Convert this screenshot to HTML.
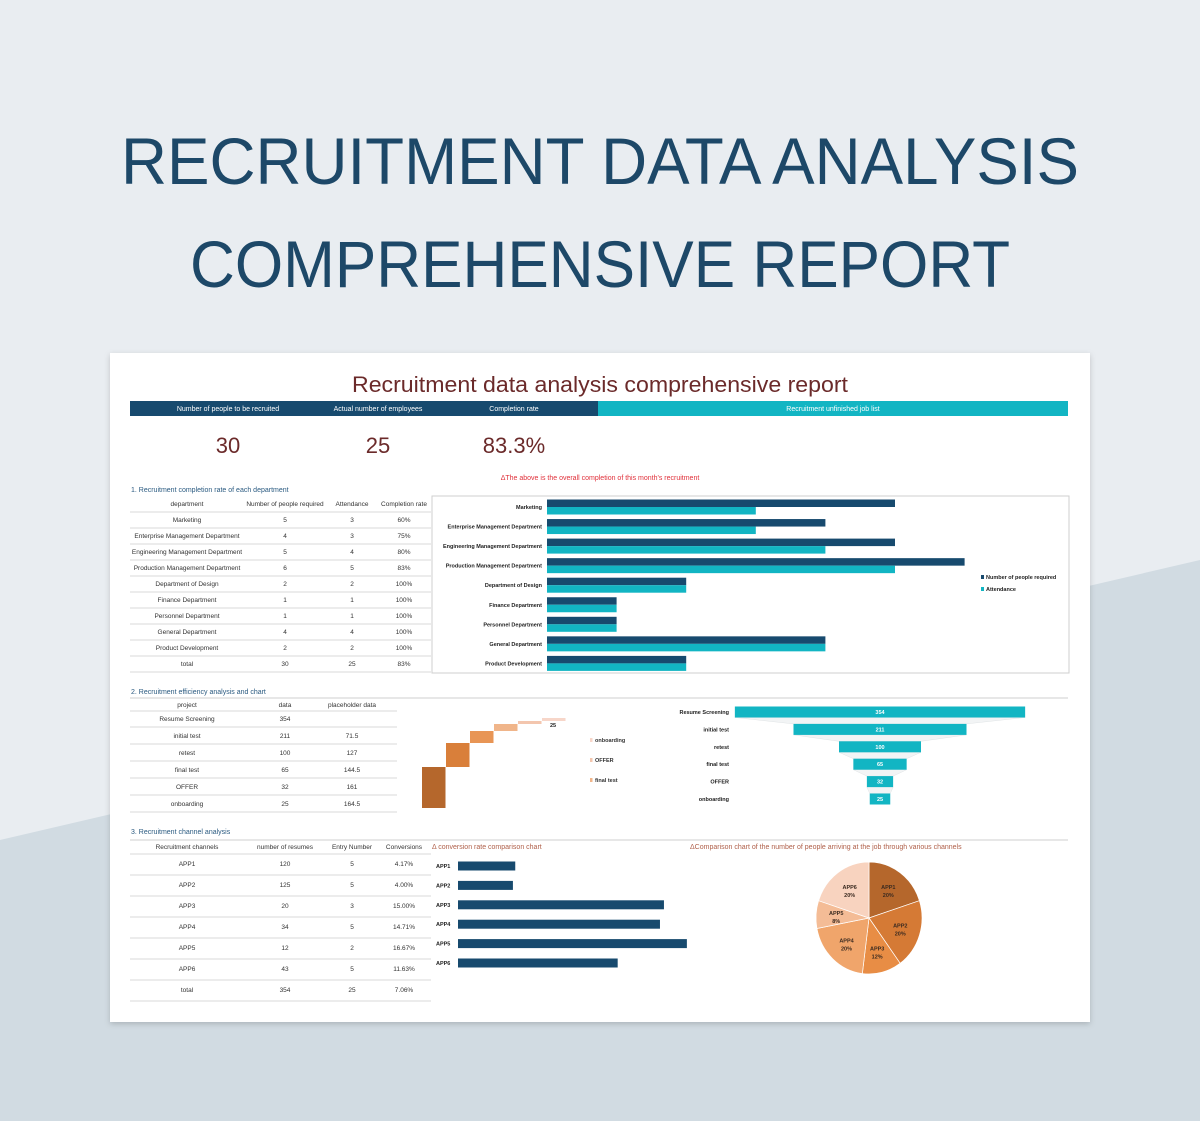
<!DOCTYPE html>
<html><head><meta charset="utf-8">
<style>
html,body{margin:0;padding:0;width:1200px;height:1121px;overflow:hidden;background:#e9edf1;}
svg{display:block;font-family:"Liberation Sans",sans-serif;}
</style></head>
<body>
<svg id="root" width="1200" height="1121" viewBox="0 0 1200 1121" xmlns="http://www.w3.org/2000/svg">
<defs><filter id="sh" x="-5%" y="-5%" width="110%" height="110%"><feDropShadow dx="0" dy="2" stdDeviation="3" flood-color="#000" flood-opacity="0.18"/></filter></defs>
<rect width="1200" height="1121" fill="#e9edf1"/>
<polygon points="0,840 1200,560 1200,1121 0,1121" fill="#d1dbe2"/>
<text x="600" y="184" text-anchor="middle" font-size="66" fill="#1d4868" textLength="958" lengthAdjust="spacingAndGlyphs">RECRUITMENT DATA ANALYSIS</text>
<text x="600" y="287" text-anchor="middle" font-size="66" fill="#1d4868" textLength="820" lengthAdjust="spacingAndGlyphs">COMPREHENSIVE REPORT</text>
<rect x="110" y="353" width="980" height="669" fill="#fff" filter="url(#sh)"/>
<text x="600" y="392" text-anchor="middle" font-size="22" fill="#6b2a2a" textLength="496" lengthAdjust="spacingAndGlyphs">Recruitment data analysis comprehensive report</text>
<rect x="130" y="401" width="468" height="15" fill="#174a6e"/>
<rect x="598" y="401" width="470" height="15" fill="#12b5c3"/>
<g font-size="7" fill="#fff" text-anchor="middle">
<text x="228" y="411">Number of people to be recruited</text>
<text x="378" y="411">Actual number of employees</text>
<text x="514" y="411">Completion rate</text>
<text x="833" y="411">Recruitment unfinished job list</text>
</g>
<g font-size="22" fill="#6b2a2a" text-anchor="middle">
<text x="228" y="453">30</text>
<text x="378" y="453">25</text>
<text x="514" y="453">83.3%</text>
</g>
<text x="600" y="480" text-anchor="middle" font-size="7" fill="#e0303a">ΔThe above is the overall completion of this month's recruitment</text>
<text x="131" y="492" font-size="7" fill="#2a5a80">1. Recruitment completion rate of each department</text>
<rect x="432" y="496" width="637" height="177" fill="none" stroke="#cfcfcf"/>
<text x="131" y="694" font-size="7" fill="#2a5a80">2. Recruitment efficiency analysis and chart</text>
<line x1="130" y1="698" x2="1068" y2="698" stroke="#cfcfcf"/>
<text x="131" y="834" font-size="7" fill="#2a5a80">3. Recruitment channel analysis</text>
<line x1="130" y1="840" x2="1068" y2="840" stroke="#cfcfcf"/>
<text x="432" y="849" font-size="7" fill="#b0604a">Δ conversion rate comparison chart</text>
<text x="690" y="849" font-size="7" fill="#b0604a">ΔComparison chart of the number of people arriving at the job through various channels</text>
<g id="dyn"></g>
</svg>
<script>
// ---- Department data ----
const deptNames = ["Marketing","Enterprise Management Department","Engineering Management Department","Production Management Department","Department of Design","Finance Department","Personnel Department","General Department","Product Development"];
const deptRequired = [5,4,5,6,2,1,1,4,2];
const deptAttendance = [3,3,4,5,2,1,1,4,2];
const deptRates = ["60%","75%","80%","83%","100%","100%","100%","100%","100%"];
// ---- Efficiency data ----
const stageNames = ["Resume Screening","initial test","retest","final test","OFFER","onboarding"];
const stageValues = [354,211,100,65,32,25];
const stagePlaceholder = ["","71.5","127","144.5","161","164.5"];
const waterfallSteps = [41,24,12,7,3,3];
// ---- Channel data ----
const channelNames = ["APP1","APP2","APP3","APP4","APP5","APP6"];
const channelResumes = [120,125,20,34,12,43];
const channelEntries = [5,5,3,5,2,5];
const channelConversion = [4.17,4.00,15.00,14.71,16.67,11.63];
const pieShares = [20,20,12,20,8,20];

const NS="http://www.w3.org/2000/svg";
const dyn=document.getElementById('dyn');
function el(tag,a){const e=document.createElementNS(NS,tag);for(const k in a)e.setAttribute(k,a[k]);dyn.appendChild(e);return e;}
function txt(x,y,s,size,fill,anchor,weight){const t=el('text',{x:x,y:y,'font-size':size,fill:fill,'text-anchor':anchor||'middle','font-weight':weight||'normal'});t.textContent=s;return t;}

// Table 1
const t1cols=[187,285,352,404];
const t1head=["department","Number of people required","Attendance","Completion rate"];
t1head.forEach((h,i)=>{const t=txt(t1cols[i],506,h,6.5,'#333');

});
function hline(x1,x2,y,name){const l=el('line',{x1:x1,x2:x2,y1:y,y2:y,stroke:'#d8d8d8'});

}
hline(130,431,512,'dept-table-rule');
const t1rows=deptNames.map((n,i)=>[n,deptRequired[i],deptAttendance[i],deptRates[i]]);
t1rows.push(["total",30,25,"83%"]);
t1rows.forEach((r,ri)=>{const y=522+ri*16;r.forEach((c,ci)=>{const t=txt(t1cols[ci],y,String(c),6.5,'#333');

});hline(130,431,528+ri*16,'dept-table-rule');});

// Dept bar chart
const xDept=v=>547+v*69.6;
const yDept=i=>507+i*19.55;
deptNames.forEach((n,i)=>{const y=yDept(i);
const l=txt(542,y+2,n,5.5,'#222','end','bold');


const b1=el('rect',{x:547,y:y-7.5,width:xDept(deptRequired[i])-547,height:7.5,fill:'#174a6e'});


const b2=el('rect',{x:547,y:y,width:xDept(deptAttendance[i])-547,height:7.5,fill:'#12b5c3'});

});
[['#174a6e','Number of people required',579],['#12b5c3','Attendance',591]].forEach(l=>{
const s=el('rect',{x:981,y:l[2]-4,width:3,height:4,fill:l[0]});


const t=txt(986,l[2],l[1],5.5,'#222','start','bold');

});

// Table 2
const t2cols=[187,285,352];
["project","data","placeholder data"].forEach((h,i)=>{const t=txt(t2cols[i],707,h,6.5,'#333');

});
hline(130,397,711,'efficiency-table-rule');
stageNames.forEach((n,i)=>{const y=721+i*17;[n,stageValues[i],stagePlaceholder[i]].forEach((c,ci)=>{const t=txt(t2cols[ci],y,String(c),6.5,'#333');

});hline(130,397,727+i*17,'efficiency-table-rule');});

// Waterfall
const wfColors=['#b5672c','#d97f3a','#e89555','#f0b58a','#f3c6ae','#f7d6c9'];
let cum=0;const yW=v=>808-v;
waterfallSteps.forEach((v,i)=>{const r=el('rect',{x:422+i*24,y:yW(cum+v),width:23.5,height:v,fill:wfColors[i]});

cum+=v;});
const wl=txt(553,727,String(stageValues[5]),5.5,'#222','middle','bold');


[['onboarding',742,'#f7d6c9'],['OFFER',762,'#f3c6ae'],['final test',782,'#f0b58a']].forEach(l=>{
const s=el('rect',{x:590,y:l[1]-4,width:2.5,height:4,fill:l[2]});


const t=txt(595,l[1],l[0],5.5,'#333','start','bold');

});

// Funnel
const fScale=0.82,fCx=880;const yF=i=>712+i*17.4;
stageValues.forEach((v,i)=>{const w=v*fScale,y=yF(i);
if(i<stageValues.length-1){const w2=stageValues[i+1]*fScale,y2=yF(i+1);
const p=el('polygon',{points:`${fCx-w/2},${y+5.5} ${fCx+w/2},${y+5.5} ${fCx+w2/2},${y2-5.5} ${fCx-w2/2},${y2-5.5}`,fill:'#f2f4f5',stroke:'#e0e4e6','stroke-width':0.5});

}
const r=el('rect',{x:fCx-w/2,y:y-5.5,width:w,height:11,fill:'#12b5c3'});


const t=txt(fCx,y+2,String(v),5.5,'#fff','middle','bold');


const l=txt(729,y+2,stageNames[i],5.5,'#222','end','bold');

});

// Table 3
const t3cols=[187,285,352,404];
["Recruitment channels","number of resumes","Entry Number","Conversions"].forEach((h,i)=>{const t=txt(t3cols[i],849,h,6.5,'#333');

});
hline(130,431,854,'channel-table-rule');
const t3rows=channelNames.map((n,i)=>[n,channelResumes[i],channelEntries[i],channelConversion[i].toFixed(2)+'%']);
t3rows.push(["total",354,25,"7.06%"]);
t3rows.forEach((r,ri)=>{const y=866+ri*21;r.forEach((c,ci)=>{const t=txt(t3cols[ci],y,String(c),6.5,'#333');

});hline(130,431,875+ri*21,'channel-table-rule');});

// Conversion bars
const xC=v=>458+v*13.73;const yC=i=>866+i*19.4;
channelConversion.forEach((v,i)=>{const y=yC(i);
const r=el('rect',{x:458,y:y-4.5,width:xC(v)-458,height:9,fill:'#174a6e'});


const t=txt(436,y+2,channelNames[i],5.5,'#222','start','bold');

});

// Pie
const pieColors=['#b5672c','#d57a35','#e88d45','#f0a56b','#f4bc96','#f8d3bf'];
const pcx=869,pcy=918,prx=53,pry=56;const tot=pieShares.reduce((a,b)=>a+b,0);
let a0=-Math.PI/2;
pieShares.forEach((s,i)=>{const a1=a0+s/tot*2*Math.PI;
const x0=pcx+prx*Math.cos(a0),y0=pcy+pry*Math.sin(a0),x1=pcx+prx*Math.cos(a1),y1=pcy+pry*Math.sin(a1);
const p=el('path',{d:`M${pcx},${pcy} L${x0},${y0} A${prx},${pry} 0 ${(a1-a0)>Math.PI?1:0} 1 ${x1},${y1} Z`,fill:pieColors[i],stroke:'#fff','stroke-width':0.7});


const am=(a0+a1)/2,lx=pcx+prx*0.62*Math.cos(am),ly=pcy+pry*0.62*Math.sin(am);
const t1=txt(lx,ly-1,channelNames[i],5.5,'#3a2a20','middle','bold');


const t2=txt(lx,ly+7,s+'%',5.5,'#3a2a20','middle','bold');


a0=a1;});
</script>
</body></html>
